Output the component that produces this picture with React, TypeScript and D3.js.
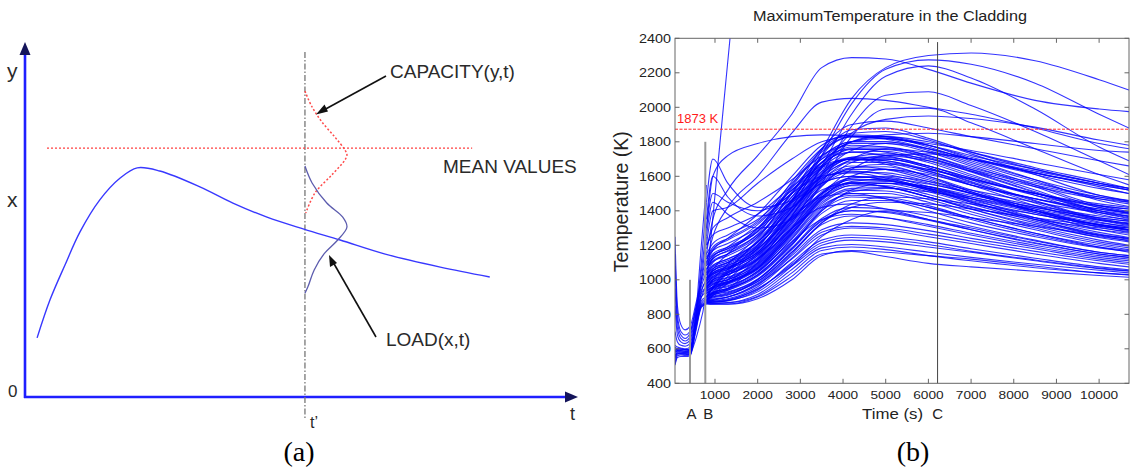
import React from "react";
import * as d3 from "d3";

const SANS = "'Liberation Sans', Arial, Helvetica, sans-serif";
const SERIF = "'Liberation Serif', 'Times New Roman', Times, serif";

// ---------------- Panel (a) data (abstract units 0..100) ----------------
const loadTime = [2.2, 4.55, 7.27, 10.0, 13.6, 17.3, 20.4, 24.5, 31.8, 37.8, 44.0, 50.7, 57.3, 65.5, 75.5, 84.5];
const loadMean = [16.8, 27.6, 37.5, 46.9, 56.0, 62.2, 65.1, 64.2, 59.7, 55.1, 51.1, 47.7, 44.6, 40.6, 36.9, 34.1];
const meanLineStart = 4;
const meanLineEnd = 81.3;
const meanLevel = 70.7;
const tPrime = 50.9;
const capLevels = [86.9, 82.6, 78.2, 73.9, 70.2, 68.8, 67.3, 63.1, 58.0, 52.3];
const capDensity = [0, 0.16, 0.4, 0.71, 0.95, 1.0, 0.95, 0.64, 0.24, 0.02];
const loadLevels = [65.6, 60.8, 55.1, 51.1, 48.3, 44.6, 40.6, 36.1, 31.3, 29.5];
const loadDensity = [0, 0.17, 0.52, 0.9, 1.0, 0.78, 0.45, 0.22, 0.07, 0];

// ---------------- Panel (b) data ----------------
const xTickValues = [1000, 2000, 3000, 4000, 5000, 6000, 7000, 8000, 9000, 10000];
const yTickValues = [400, 600, 800, 1000, 1200, 1400, 1600, 1800, 2000, 2200, 2400];
const limitTemp = 1873;
const markerLabels = ["A", "B", "C"];
const markerTimes = [415, 773, 6215];
const markerTops = [1000, 1800, 2378];

const earlyTimes = [63, 120, 200, 300, 415, 550, 680, 800];
const earlyCurves = [
  [1250, 850, 740, 710, 730, 860, 1000, 1150],
  [1150, 800, 700, 680, 700, 840, 980, 1100],
  [1080, 760, 680, 660, 690, 830, 960, 1050],
  [950, 720, 660, 645, 670, 820, 940, 1000],
  [850, 680, 640, 630, 650, 800, 920, 960],
  [700, 640, 620, 615, 630, 780, 900, 930],
  [620, 610, 605, 600, 610, 760, 880, 900],
  [580, 600, 600, 595, 600, 750, 870, 890],
  [560, 590, 590, 585, 590, 740, 860, 880],
  [540, 580, 580, 578, 580, 730, 855, 870],
  [520, 570, 575, 572, 575, 720, 850, 865],
  [510, 560, 565, 562, 565, 710, 845, 862],
  [505, 550, 555, 555, 558, 700, 840, 860],
  [600, 590, 588, 586, 585, 760, 1000, 1250],
  [580, 585, 583, 580, 580, 780, 1100, 1450],
  [560, 575, 573, 570, 570, 800, 1200, 1550],
  [550, 570, 570, 568, 566, 770, 1050, 1300],
  [610, 600, 598, 596, 595, 750, 930, 1000],
  [590, 595, 594, 592, 590, 745, 900, 960],
];

const steepTimes = [415, 600, 773, 900, 1050, 1200, 1352, 1450];
const steepTemps = [560, 700, 900, 1230, 1620, 2010, 2400, 2650];

const lateTimes = [800, 950, 1300, 2000, 2800, 3500, 4200, 5000, 6000, 7000, 8500, 10000, 10700];
const highCurves = [
  [1150, 1350, 1520, 1720, 1960, 2230, 2288, 2280, 2220, 2140, 2040, 1990, 1975],
  [1100, 1250, 1420, 1600, 1850, 2030, 2052, 2040, 2000, 1960, 1880, 1790, 1760],
  [900, 950, 1050, 1230, 1450, 1750, 2050, 2230, 2300, 2315, 2270, 2160, 2100],
  [900, 960, 1060, 1220, 1420, 1720, 2020, 2220, 2275, 2250, 2140, 1960, 1880],
  [880, 930, 1020, 1180, 1370, 1660, 1960, 2180, 2240, 2170, 1990, 1770, 1690],
  [880, 920, 1000, 1150, 1330, 1610, 1890, 2070, 2090, 2010, 1860, 1690, 1610],
  [870, 910, 980, 1120, 1300, 1560, 1830, 1990, 1995, 1910, 1760, 1610, 1550],
  [900, 950, 1040, 1200, 1400, 1650, 1850, 1930, 1950, 1935, 1885, 1810, 1780],
  [1450, 1700, 1560, 1420, 1460, 1650, 1800, 1840, 1850, 1830, 1790, 1750, 1740],
  [1350, 1600, 1480, 1370, 1420, 1580, 1700, 1760, 1740, 1700, 1620, 1540, 1500],
  [1300, 1500, 1450, 1400, 1500, 1680, 1800, 1830, 1800, 1740, 1650, 1570, 1530],
  [1200, 1400, 1420, 1560, 1700, 1800, 1830, 1820, 1780, 1720, 1640, 1560, 1520],
  [1250, 1450, 1380, 1300, 1350, 1500, 1640, 1720, 1730, 1700, 1630, 1560, 1530],
  [1000, 1060, 1150, 1300, 1500, 1760, 1900, 1920, 1880, 1830, 1760, 1690, 1660],
  [950, 1000, 1090, 1250, 1460, 1720, 1870, 1880, 1820, 1740, 1640, 1560, 1530],
  [1180, 1300, 1360, 1450, 1580, 1720, 1800, 1800, 1760, 1700, 1620, 1550, 1520],
  [1300, 1600, 1720, 1790, 1830, 1840, 1835, 1820, 1790, 1750, 1680, 1610, 1580],
];
const bandCurves = [
  [865, 860, 860, 900, 1020, 1150, 1165, 1135, 1095, 1075, 1050, 1025, 1015],
  [870, 865, 868, 915, 1060, 1185, 1205, 1190, 1160, 1130, 1090, 1055, 1040],
  [875, 870, 878, 940, 1100, 1230, 1260, 1250, 1220, 1180, 1125, 1075, 1058],
  [880, 880, 890, 960, 1125, 1275, 1310, 1300, 1265, 1225, 1165, 1110, 1090],
  [890, 900, 915, 990, 1160, 1320, 1370, 1360, 1320, 1270, 1200, 1140, 1120],
  [900, 915, 930, 1005, 1185, 1355, 1420, 1410, 1370, 1310, 1230, 1160, 1140],
  [910, 930, 950, 1025, 1205, 1385, 1460, 1460, 1420, 1360, 1270, 1190, 1160],
  [920, 945, 965, 1045, 1235, 1420, 1500, 1500, 1450, 1380, 1290, 1210, 1185],
  [930, 960, 985, 1065, 1265, 1450, 1530, 1535, 1480, 1410, 1310, 1230, 1200],
  [945, 975, 1000, 1085, 1295, 1480, 1565, 1560, 1510, 1440, 1340, 1255, 1225],
  [955, 990, 1015, 1100, 1320, 1510, 1590, 1595, 1540, 1470, 1360, 1275, 1245],
  [965, 1000, 1030, 1115, 1345, 1545, 1625, 1620, 1570, 1500, 1390, 1290, 1260],
  [980, 1015, 1045, 1130, 1370, 1570, 1650, 1655, 1600, 1520, 1410, 1315, 1285],
  [1000, 1035, 1065, 1150, 1400, 1600, 1680, 1680, 1630, 1550, 1430, 1335, 1305],
  [1010, 1055, 1085, 1170, 1420, 1625, 1710, 1710, 1660, 1580, 1460, 1355, 1325],
  [1020, 1065, 1100, 1190, 1450, 1650, 1740, 1745, 1690, 1610, 1490, 1380, 1345],
  [1040, 1085, 1120, 1215, 1480, 1680, 1770, 1770, 1720, 1640, 1520, 1400, 1365],
  [1060, 1105, 1140, 1240, 1510, 1710, 1800, 1800, 1750, 1670, 1550, 1430, 1395],
  [1080, 1125, 1165, 1265, 1540, 1740, 1830, 1830, 1780, 1700, 1580, 1460, 1425],
  [1100, 1150, 1190, 1290, 1570, 1760, 1850, 1860, 1810, 1730, 1610, 1490, 1455],
  [880, 910, 950, 1100, 1350, 1500, 1560, 1540, 1480, 1420, 1350, 1300, 1280],
  [1120, 1170, 1210, 1300, 1450, 1560, 1600, 1580, 1520, 1460, 1380, 1320, 1300],
  [1150, 1210, 1260, 1350, 1520, 1650, 1700, 1690, 1630, 1560, 1470, 1390, 1360],
  [1050, 1130, 1190, 1320, 1500, 1600, 1620, 1590, 1530, 1470, 1390, 1320, 1290],
  [870, 872, 880, 930, 1080, 1250, 1350, 1400, 1390, 1360, 1310, 1260, 1240],
  [875, 885, 900, 980, 1150, 1330, 1440, 1480, 1470, 1440, 1380, 1320, 1300],
  [895, 910, 940, 1030, 1210, 1400, 1520, 1560, 1540, 1490, 1420, 1360, 1340],
  [920, 950, 980, 1070, 1270, 1470, 1600, 1640, 1610, 1550, 1470, 1400, 1380],
  [960, 990, 1030, 1120, 1330, 1540, 1680, 1720, 1690, 1630, 1540, 1470, 1450],
  [1000, 1040, 1080, 1180, 1400, 1610, 1750, 1790, 1760, 1700, 1610, 1530, 1500],
  [1030, 1080, 1120, 1220, 1460, 1680, 1800, 1820, 1780, 1710, 1620, 1550, 1520],
  [970, 1020, 1060, 1180, 1360, 1480, 1500, 1470, 1400, 1330, 1250, 1185, 1165],
  [940, 975, 1000, 1110, 1300, 1420, 1440, 1410, 1350, 1290, 1210, 1150, 1130],
  [900, 925, 950, 1050, 1220, 1350, 1380, 1360, 1310, 1260, 1190, 1130, 1110],
  [1080, 1140, 1180, 1300, 1530, 1700, 1760, 1740, 1680, 1600, 1500, 1420, 1390],
  [1100, 1170, 1240, 1380, 1600, 1780, 1840, 1830, 1770, 1690, 1580, 1490, 1460],
  [990, 1030, 1060, 1150, 1380, 1580, 1660, 1640, 1580, 1500, 1400, 1310, 1290],
  [1030, 1065, 1100, 1200, 1430, 1630, 1700, 1670, 1600, 1510, 1400, 1320, 1290],
  [950, 970, 990, 1080, 1280, 1470, 1560, 1570, 1540, 1480, 1400, 1330, 1310],
  [960, 980, 1000, 1090, 1300, 1500, 1590, 1600, 1570, 1520, 1450, 1390, 1370],
  [862, 858, 858, 890, 1000, 1140, 1170, 1160, 1140, 1120, 1080, 1040, 1030],
  [868, 870, 880, 950, 1080, 1200, 1230, 1220, 1190, 1160, 1110, 1065, 1050],
  [885, 895, 910, 1000, 1180, 1340, 1400, 1390, 1345, 1290, 1215, 1150, 1130],
  [905, 925, 950, 1040, 1240, 1430, 1490, 1480, 1430, 1360, 1270, 1200, 1175],
  [935, 960, 990, 1075, 1290, 1490, 1580, 1575, 1525, 1450, 1350, 1265, 1240],
  [990, 1030, 1070, 1160, 1400, 1610, 1700, 1700, 1650, 1570, 1455, 1350, 1320],
  [1010, 1050, 1090, 1190, 1440, 1660, 1760, 1760, 1710, 1630, 1510, 1400, 1370],
  [1120, 1180, 1230, 1330, 1520, 1680, 1740, 1720, 1660, 1590, 1500, 1430, 1410],
  [1200, 1260, 1300, 1380, 1540, 1660, 1700, 1680, 1620, 1550, 1470, 1410, 1390],
  [1060, 1120, 1170, 1280, 1480, 1640, 1700, 1690, 1640, 1580, 1500, 1440, 1420],
  [900, 920, 940, 1020, 1200, 1400, 1480, 1470, 1420, 1350, 1260, 1190, 1170],
  [925, 950, 975, 1060, 1250, 1440, 1520, 1515, 1465, 1395, 1300, 1220, 1195],
  [950, 985, 1010, 1095, 1310, 1500, 1580, 1580, 1530, 1455, 1350, 1260, 1235],
  [975, 1010, 1040, 1125, 1360, 1560, 1640, 1640, 1590, 1510, 1400, 1305, 1275],
  [1000, 1040, 1075, 1160, 1410, 1615, 1700, 1700, 1650, 1565, 1445, 1345, 1315],
  [1030, 1075, 1110, 1205, 1465, 1665, 1755, 1755, 1705, 1625, 1505, 1390, 1355],
  [860, 862, 866, 905, 1040, 1170, 1190, 1175, 1140, 1110, 1070, 1040, 1028],
  [872, 875, 885, 945, 1090, 1215, 1245, 1235, 1205, 1165, 1115, 1068, 1052],
  [882, 888, 900, 970, 1140, 1290, 1330, 1320, 1285, 1240, 1180, 1120, 1100],
  [895, 905, 925, 1000, 1175, 1345, 1400, 1395, 1350, 1300, 1225, 1160, 1140],
  [1090, 1140, 1180, 1280, 1550, 1750, 1830, 1815, 1760, 1680, 1570, 1470, 1440],
  [1000, 1050, 1100, 1220, 1420, 1560, 1600, 1580, 1520, 1450, 1360, 1290, 1270],
  [1040, 1100, 1150, 1260, 1460, 1590, 1630, 1610, 1560, 1500, 1420, 1360, 1340],
  [920, 940, 960, 1050, 1260, 1460, 1550, 1560, 1530, 1480, 1410, 1350, 1330],
  [940, 960, 985, 1070, 1280, 1480, 1570, 1585, 1555, 1505, 1430, 1370, 1350],
  [980, 1000, 1030, 1120, 1340, 1550, 1650, 1670, 1640, 1585, 1500, 1430, 1410],
  [1010, 1040, 1070, 1160, 1390, 1600, 1710, 1730, 1700, 1640, 1550, 1480, 1460],
  [890, 900, 920, 990, 1160, 1330, 1420, 1450, 1440, 1410, 1360, 1310, 1290],
  [910, 920, 945, 1030, 1220, 1410, 1510, 1530, 1510, 1470, 1400, 1345, 1325],
  [960, 1000, 1040, 1140, 1360, 1520, 1560, 1540, 1480, 1410, 1320, 1250, 1230],
  [1130, 1190, 1240, 1340, 1560, 1720, 1780, 1770, 1720, 1650, 1560, 1480, 1450],
  [990, 1020, 1050, 1140, 1370, 1590, 1690, 1700, 1660, 1590, 1490, 1410, 1385],
  [870, 880, 900, 975, 1120, 1260, 1300, 1290, 1250, 1210, 1150, 1095, 1075],
  [935, 955, 980, 1065, 1270, 1465, 1545, 1545, 1495, 1425, 1330, 1245, 1220],
  [1065, 1110, 1150, 1250, 1500, 1700, 1790, 1790, 1740, 1660, 1540, 1420, 1385],
];

// ---------------- scales ----------------
const xA = d3.scaleLinear().domain([0, 100]).range([25, 575]);
const yA = d3.scaleLinear().domain([0, 100]).range([397, 45]);
const densA = d3.scaleLinear().domain([0, 1]).range([0, 42]);

const xB = d3.scaleLinear().domain([63, 10700]).range([675, 1129]);
const yB = d3.scaleLinear().domain([400, 2400]).range([383.3, 38.3]);

function seriesPath(times: number[], vals: number[]) {
  return (
    d3
      .line<number>()
      .x((_, i) => xB(times[i]))
      .y((d) => yB(d))
      .curve(d3.curveMonotoneX)(vals) || ""
  );
}

function PanelA() {
  const mainPath =
    d3
      .line<number>()
      .x((_, i) => xA(loadTime[i]))
      .y((d) => yA(d))
      .curve(d3.curveCatmullRom)(loadMean) || "";
  const x0 = xA(tPrime);
  const capPath =
    d3
      .line<number>()
      .x((_, i) => x0 + densA(capDensity[i]))
      .y((d) => yA(d))
      .curve(d3.curveCatmullRom)(capLevels) || "";
  const loadPath =
    d3
      .line<number>()
      .x((_, i) => x0 + densA(loadDensity[i]))
      .y((d) => yA(d))
      .curve(d3.curveCatmullRom)(loadLevels) || "";
  const ox = xA(0);
  const oy = yA(0);
  const axisColor = "#1f1fff";
  const arrowColor = "#14145a";
  return (
    <g>
      <line x1={ox} y1={oy + 1} x2={ox} y2={54} stroke={axisColor} strokeWidth={2.6} />
      <line x1={ox - 1} y1={oy} x2={566} y2={oy} stroke={axisColor} strokeWidth={2.6} />
      <path d={`M${ox},42 L${ox - 5.5},55 L${ox + 5.5},55 Z`} fill={arrowColor} />
      <path d={`M578,${oy} L565,${oy - 5.5} L565,${oy + 5.5} Z`} fill={arrowColor} />
      <line x1={x0} y1={52} x2={x0} y2={418} stroke="#777" strokeWidth={1.3} strokeDasharray="6,2,1.5,2" />
      <line
        x1={xA(meanLineStart)}
        x2={xA(meanLineEnd)}
        y1={yA(meanLevel)}
        y2={yA(meanLevel)}
        stroke="#ff4040"
        strokeWidth={1.4}
        strokeDasharray="2,2"
      />
      <path d={mainPath} fill="none" stroke="#3838ff" strokeWidth={1.4} />
      <path d={capPath} fill="none" stroke="#ff4a4a" strokeWidth={1.5} strokeDasharray="2,2" />
      <path d={loadPath} fill="none" stroke="#5c5cae" strokeWidth={1.3} />
      <line x1={386} y1={76} x2={322} y2={111} stroke="#111" strokeWidth={1.6} />
      <path d="M316,114.5 L324.5,104.5 L328,111.5 Z" fill="#111" />
      <line x1={376} y1={337} x2={333} y2={262} stroke="#111" strokeWidth={1.6} />
      <path d="M329,255 L330,267 L337,263 Z" fill="#111" />
      <g fontFamily={SANS} fill="#2a2a2a">
        <text x={390} y={78} fontSize={19}>CAPACITY(y,t)</text>
        <text x={443} y={173} fontSize={19}>MEAN VALUES</text>
        <text x={386} y={346} fontSize={19}>LOAD(x,t)</text>
        <text x={7} y={78} fontSize={21}>y</text>
        <text x={7} y={207} fontSize={21}>x</text>
        <text x={8} y={397} fontSize={17}>0</text>
        <text x={570} y={420} fontSize={18}>t</text>
        <text x={310} y={428} fontSize={16}>t’</text>
      </g>
      <text x={299} y={461} fontFamily={SERIF} fontWeight="normal" fontSize={28} textAnchor="middle" fill="#000">
        (a)
      </text>
    </g>
  );
}

function PanelB() {
  const left = xB.range()[0];
  const right = xB.range()[1];
  const top = yB.range()[1];
  const bottom = yB.range()[0];
  const tick = 4.5;
  const lineColor = "#0000ff";
  return (
    <g>
      <defs>
        <clipPath id="plotClip">
          <rect x={left} y={top} width={right - left} height={bottom - top} />
        </clipPath>
      </defs>
      <g clipPath="url(#plotClip)" fill="none" stroke={lineColor} strokeWidth={1.1} strokeOpacity={0.8}>
        {earlyCurves.map((c, i) => (
          <path key={"e" + i} d={seriesPath(earlyTimes, c)} />
        ))}
        <path d={seriesPath(steepTimes, steepTemps)} />
        {bandCurves.map((c, i) => (
          <path key={"b" + i} d={seriesPath(lateTimes, c)} />
        ))}
        {highCurves.map((c, i) => (
          <path key={"h" + i} d={seriesPath(lateTimes, c)} />
        ))}
      </g>
      <line x1={left} x2={right} y1={yB(limitTemp)} y2={yB(limitTemp)} stroke="#ff2a2a" strokeWidth={1} strokeDasharray="3,1.5" />
      <text x={677} y={123} fontFamily={SANS} fontSize={13} fill="#ff1a1a">
        1873 K
      </text>
      {markerTimes.map((t, i) => (
        <line
          key={"m" + i}
          x1={xB(t)}
          x2={xB(t)}
          y1={bottom}
          y2={yB(markerTops[i])}
          stroke={i < 2 ? "#999" : "#444"}
          strokeWidth={i < 2 ? 2 : 1}
        />
      ))}
      <rect x={left} y={top} width={right - left} height={bottom - top} fill="none" stroke="#666" strokeWidth={1} />
      {xTickValues.map((v) => (
        <g key={"xt" + v} stroke="#666" strokeWidth={1}>
          <line x1={xB(v)} x2={xB(v)} y1={bottom} y2={bottom - tick} />
          <line x1={xB(v)} x2={xB(v)} y1={top} y2={top + tick} />
        </g>
      ))}
      {yTickValues.map((v) => (
        <g key={"yt" + v} stroke="#666" strokeWidth={1}>
          <line x1={left} x2={left + tick} y1={yB(v)} y2={yB(v)} />
          <line x1={right} x2={right - tick} y1={yB(v)} y2={yB(v)} />
        </g>
      ))}
      <g fontFamily={SANS} fill="#222">
        {xTickValues.map((v) => (
          <text
            key={"xl" + v}
            x={xB(v)}
            y={399}
            fontSize={11}
            textAnchor="middle"
            textLength={String(v).length * 7.6}
            lengthAdjust="spacingAndGlyphs"
          >
            {String(v)}
          </text>
        ))}
        {yTickValues.map((v) => (
          <text
            key={"yl" + v}
            x={671}
            y={yB(v) + 4.3}
            fontSize={12}
            textAnchor="end"
            textLength={String(v).length * 8}
            lengthAdjust="spacingAndGlyphs"
          >
            {String(v)}
          </text>
        ))}
        <text x={890} y={20.5} fontSize={14} textAnchor="middle" textLength={274} lengthAdjust="spacingAndGlyphs">
          MaximumTemperature in the Cladding
        </text>
        <text transform="translate(628,201.7) rotate(-90)" fontSize={19.5} textAnchor="middle">
          Temperature (K)
        </text>
        {markerLabels.slice(0, 2).map((m, i) => (
          <text key={"ml" + m} x={xB(markerTimes[i]) + 1.5 + i * 1.5} y={419} fontSize={15} textAnchor="middle">
            {m}
          </text>
        ))}
        <text x={862} y={419} fontSize={15} textLength={61} lengthAdjust="spacingAndGlyphs">
          Time (s)
        </text>
        <text x={xB(markerTimes[2])} y={419} fontSize={15} textAnchor="middle">
          {markerLabels[2]}
        </text>
      </g>
      <text x={913} y={461} fontFamily={SERIF} fontWeight="normal" fontSize={28} textAnchor="middle" fill="#000">
        (b)
      </text>
    </g>
  );
}

export default function App() {
  return (
    <svg
      width={1130}
      height={470}
      viewBox="0 0 1130 470"
      style={{ position: "absolute", left: 0, top: 0, background: "#fff" }}
    >
      <rect x={0} y={0} width={1130} height={470} fill="#fff" />
      <PanelA />
      <PanelB />
    </svg>
  );
}
